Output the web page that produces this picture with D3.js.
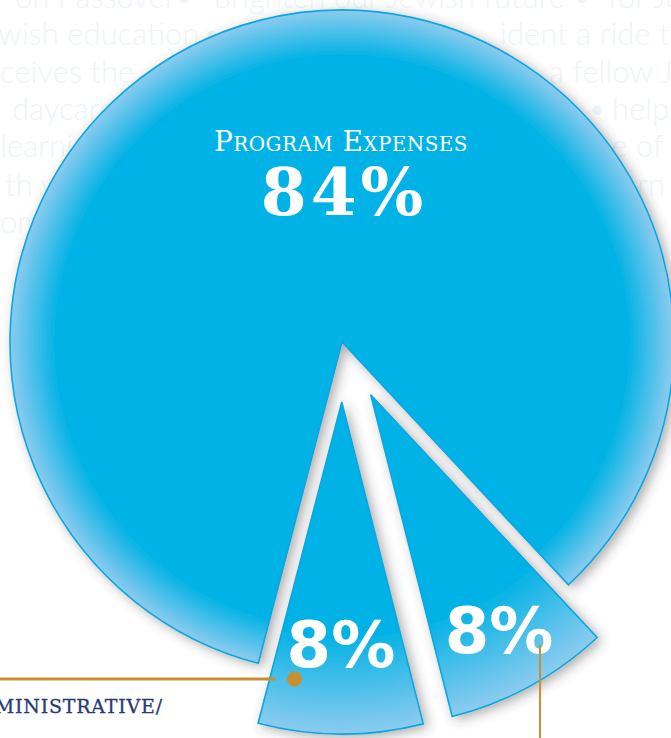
<!DOCTYPE html>
<html>
<head>
<meta charset="utf-8">
<script src="https://cdn.jsdelivr.net/npm/d3@7"></script>
<style>
  html, body { margin: 0; padding: 0; background: #fff; overflow: hidden; }
</style>
</head>
<body>
<script>
// values
const categories = ['Program Expenses', 'Fundraising', 'Administrative/General'];
const shares = [84, 8, 8];
const shareLabels = ['84%', '8%', '8%'];

// faint words printed behind the pie
const backWords = [
  ['on Passover', 15, 8], ['\u2022', 175, 8], ['brighten our Jewish future', 214, 8], ['\u2022', 573, 8], ['for Jews', 608, 8],
  ['wish education', -2, 45], ['\u2022', 203, 45], ['ident a ride to the', 500, 45],
  ['ceives the', 0, 83], ['a fellow Jew', 549, 83],
  ['daycare', 12, 120], ['\u2022', 588, 120], ['help', 612, 120],
  ['learning', 0, 157], ['ce of', 597, 157],
  ['th w', 5, 196], ['rn', 637, 196],
  ['om', 0, 233]
];

const width = 671, height = 738;
const cx = 342, cy = 342, radius = 332;
const explode = 60;
const startDeg = -165.4;

const svg = d3.select('body').append('svg')
  .attr('width', width)
  .attr('height', height);

svg.append('rect').attr('width', width).attr('height', height).attr('fill', '#fff');

const defs = svg.append('defs');

const shadow = defs.append('filter').attr('id', 'shadow')
  .attr('x', '-20%').attr('y', '-20%').attr('width', '140%').attr('height', '140%');
shadow.append('feDropShadow')
  .attr('dx', 4).attr('dy', 3).attr('stdDeviation', 6)
  .attr('flood-color', '#3a3a3a').attr('flood-opacity', 0.42);

function makeGradient(id, solidStop) {
  const g = defs.append('radialGradient').attr('id', id)
    .attr('gradientUnits', 'userSpaceOnUse')
    .attr('cx', 0).attr('cy', 0).attr('r', radius);
  g.append('stop').attr('offset', 0).attr('stop-color', '#00b2e5');
  g.append('stop').attr('offset', solidStop).attr('stop-color', '#00b2e5');
  g.append('stop').attr('offset', 1).attr('stop-color', '#8ccbef');
}
makeGradient('gradBig', 0.86);
makeGradient('gradSmall', 0.7);

// background words
svg.append('g')
  .selectAll('text')
  .data(backWords)
  .join('text')
  .attr('x', d => d[1])
  .attr('y', d => d[2])
  .attr('font-family', 'Lato, "Open Sans", sans-serif')
  .attr('font-weight', 300)
  .attr('font-size', 31)
  .attr('fill', '#eef4fa')
  .text(d => d[0]);

const rad = Math.PI / 180;
const pie = d3.pie().sort(null)
  .startAngle(startDeg * rad)
  .endAngle(startDeg * rad + 2 * Math.PI)
  .value(d => d);
const arcs = pie(shares);

const arc = d3.arc().innerRadius(0).outerRadius(radius);

function apexOf(d, i) {
  if (i === 0) return [cx, cy];
  const mid = (d.startAngle + d.endAngle) / 2;
  return [cx + explode * Math.sin(mid), cy - explode * Math.cos(mid)];
}
function polar(d, i, r, turnDeg) {
  const [ax, ay] = apexOf(d, i);
  const a = (d.startAngle + d.endAngle) / 2 + turnDeg * rad;
  return [ax + r * Math.sin(a), ay - r * Math.cos(a)];
}

const slices = svg.append('g').attr('filter', 'url(#shadow)')
  .selectAll('g')
  .data(arcs)
  .join('g')
  .attr('transform', (d, i) => `translate(${apexOf(d, i)})`);

slices.append('path')
  .attr('d', arc)
  .attr('fill', (d, i) => i === 0 ? 'url(#gradBig)' : 'url(#gradSmall)')
  .attr('stroke', '#0ba7df')
  .attr('stroke-width', 1.6)
  .attr('stroke-linejoin', 'miter');

// program expenses label
svg.append('text')
  .attr('x', cx - 1)
  .attr('y', cy - 191)
  .attr('text-anchor', 'middle')
  .attr('font-family', '"DejaVu Serif", serif')
  .attr('font-size', 28)
  .attr('letter-spacing', 0.4)
  .attr('font-variant', 'small-caps')
  .attr('fill', '#fff')
  .text(categories[0]);

svg.append('text')
  .attr('x', cx + 2)
  .attr('y', cy - 127)
  .attr('text-anchor', 'middle')
  .attr('font-family', '"DejaVu Serif", serif')
  .attr('font-weight', 'bold')
  .attr('font-size', 66)
  .attr('letter-spacing', 4)
  .attr('fill', '#fff')
  .text(shareLabels[0]);

// small slice labels
const labelR = [0, 268, 242];
svg.append('g')
  .selectAll('text')
  .data(arcs.slice(1))
  .join('text')
  .each(function (d, j) {
    const p = polar(d, j + 1, labelR[j + 1], 0);
    d3.select(this).attr('x', p[0]).attr('y', p[1] + 23);
  })
  .attr('text-anchor', 'middle')
  .attr('font-family', '"DejaVu Sans", sans-serif')
  .attr('font-weight', 'bold')
  .attr('font-size', 64)
  .attr('fill', '#fff')
  .text((d, j) => shareLabels[j + 1]);

// leader lines
const gold = '#c98f2e';
const dot = polar(arcs[2], 2, 281, 9.5);
svg.append('line')
  .attr('x1', 0).attr('y1', dot[1])
  .attr('x2', dot[0] - 19).attr('y2', dot[1])
  .attr('stroke', gold).attr('stroke-width', 3);
svg.append('circle')
  .attr('cx', dot[0]).attr('cy', dot[1]).attr('r', 7.5)
  .attr('fill', gold);

const lineTop = polar(arcs[1], 1, 302, -5.5);
svg.append('line')
  .attr('x1', lineTop[0]).attr('y1', lineTop[1])
  .attr('x2', lineTop[0]).attr('y2', height)
  .attr('stroke', gold).attr('stroke-width', 2);

// administrative label (runs off the page edge)
const adm = svg.append('text')
  .attr('x', 163)
  .attr('y', dot[1] + 34)
  .attr('text-anchor', 'end')
  .attr('font-family', '"DejaVu Serif", serif')
  .attr('font-size', 19)
  .attr('letter-spacing', 0.8)
  .attr('stroke', '#283a75')
  .attr('stroke-width', 0.3)
  .attr('fill', '#283a75')
  .text('ADMINISTRATIVE/');
const admStart = 163 - adm.node().getComputedTextLength();
svg.append('text')
  .attr('x', admStart)
  .attr('y', dot[1] + 34 + 41)
  .attr('font-family', '"DejaVu Serif", serif')
  .attr('font-size', 19)
  .attr('letter-spacing', 0.8)
  .attr('fill', '#283a75')
  .text('GENERAL');
</script>
</body>
</html>
